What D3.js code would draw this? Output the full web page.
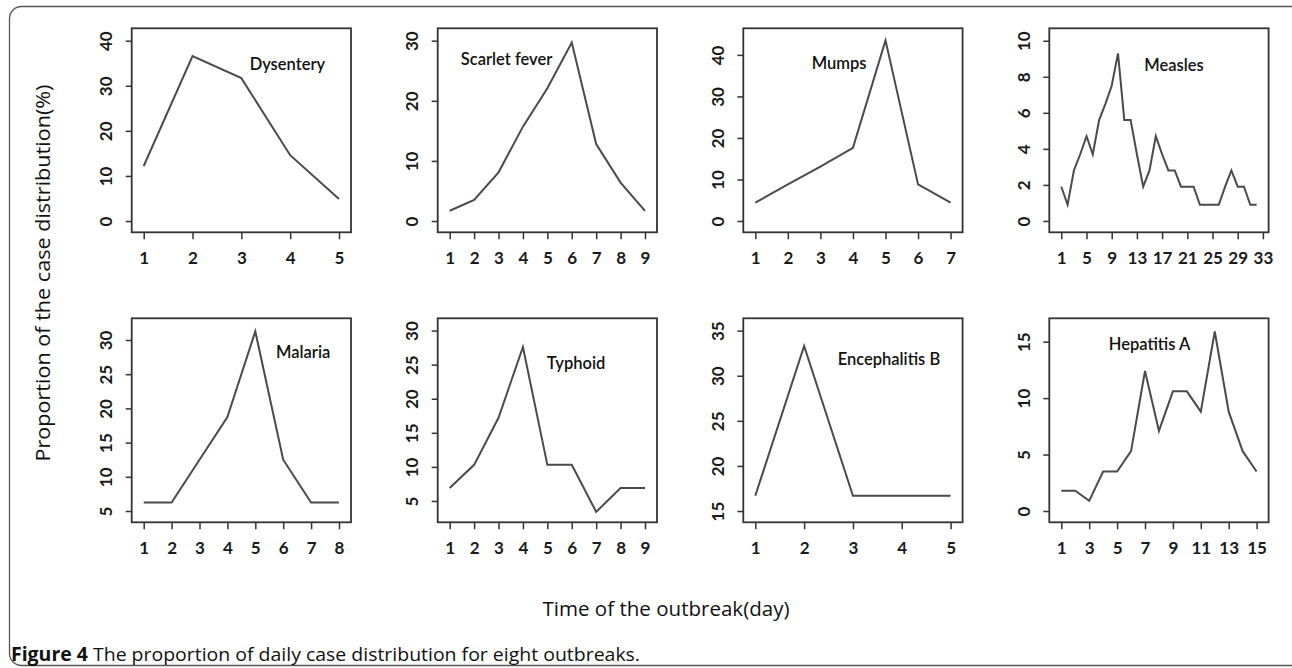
<!DOCTYPE html>
<html>
<head>
<meta charset="utf-8">
<script src="https://cdn.jsdelivr.net/npm/d3@7"></script>
<style>
  html, body { margin: 0; padding: 0; background: #fff; }
  svg { display: block; }
  text { font-family: Lato, "Open Sans", sans-serif; }
</style>
</head>
<body>
<svg id="chart" width="1292" height="668"></svg>
<script>
// ---- data ----
const diseases = ["Dysentery", "Scarlet fever", "Mumps", "Measles", "Malaria", "Typhoid", "Encephalitis B", "Hepatitis A"];
const dysentery = [12.2, 36.6, 31.7, 14.6, 4.9];
const scarletFever = [1.7, 3.5, 8.1, 15.7, 22.1, 29.7, 12.8, 6.4, 1.7];
const mumps = [4.4, 8.8, 13.1, 17.6, 43.5, 8.8, 4.4];
const measles = [1.9, 0.9, 2.8, 3.7, 4.7, 3.7, 5.6, 6.5, 7.5, 9.3, 5.6, 5.6, 3.7, 1.9, 2.8, 4.7, 3.7, 2.8, 2.8, 1.9, 1.9, 1.9, 0.9, 0.9, 0.9, 0.9, 1.9, 2.8, 1.9, 1.9, 0.9, 0.9];
const malaria = [6.25, 6.25, 12.5, 18.75, 31.25, 12.5, 6.25, 6.25];
const typhoid = [6.9, 10.3, 17.2, 27.6, 10.3, 10.3, 3.4, 6.9, 6.9];
const encephalitisB = [16.7, 33.3, 16.7, 16.7, 16.7];
const hepatitisA = [1.8, 1.8, 0.9, 3.5, 3.5, 5.3, 12.4, 7.1, 10.6, 10.6, 8.8, 15.9, 8.8, 5.3, 3.5];
const seriesList = [dysentery, scarletFever, mumps, measles, malaria, typhoid, encephalitisB, hepatitisA];

const xTickLabels = [
  [1, 2, 3, 4, 5],
  [1, 2, 3, 4, 5, 6, 7, 8, 9],
  [1, 2, 3, 4, 5, 6, 7],
  [1, 5, 9, 13, 17, 21, 25, 29, 33],
  [1, 2, 3, 4, 5, 6, 7, 8],
  [1, 2, 3, 4, 5, 6, 7, 8, 9],
  [1, 2, 3, 4, 5],
  [1, 3, 5, 7, 9, 11, 13, 15]
];
const yTickLabels = [
  [0, 10, 20, 30, 40],
  [0, 10, 20, 30],
  [0, 10, 20, 30, 40],
  [0, 2, 4, 6, 8, 10],
  [5, 10, 15, 20, 25, 30],
  [5, 10, 15, 20, 25, 30],
  [15, 20, 25, 30, 35],
  [0, 5, 10, 15]
];
const yLimits = [
  [-2.5, 42.75], [-1.88, 32.06], [-2.72, 46.4], [-0.63, 10.69],
  [3.35, 33.17], [1.87, 31.8], [13.75, 36.37], [-1.0, 17.07]
];
const xTitle = "Time of the outbreak(day)";
const yTitle = "Proportion of the case distribution(%)";
const captionBold = "Figure 4";
const captionText = " The proportion of daily case distribution for eight outbreaks.";

// ---- layout ----
const colLeft = [131.7, 437.7, 743.3, 1049.3];
const colWidth = 219.3;
const rowTop = [28.3, 318.3];
const boxH = 204;
const xInset = 12;
const labelPos = [
  [0.71, 0.176], [0.314, 0.15], [0.437, 0.172], [0.569, 0.18],
  [0.782, 0.167], [0.631, 0.22], [0.664, 0.201], [0.457, 0.127]
];

const svg = d3.select("#chart");

// outer rounded frame
svg.append("rect")
  .attr("x", 9.5).attr("y", 6.5).attr("width", 1296).attr("height", 659)
  .attr("rx", 12).attr("ry", 12)
  .attr("fill", "none").attr("stroke", "#555").attr("stroke-width", 1.3);

seriesList.forEach((vals, i) => {
  const col = i % 4, row = Math.floor(i / 4);
  const left = colLeft[col], top = rowTop[row];
  const g = svg.append("g").attr("transform", `translate(${left},${top})`);
  const x = d3.scaleLinear().domain([1, vals.length]).range([xInset, colWidth - xInset]);
  const y = d3.scaleLinear().domain(yLimits[i]).range([boxH, 0]);

  // data line
  const line = d3.line().x((d, j) => x(j + 1)).y(d => y(d));
  g.append("path").datum(vals)
    .attr("d", line)
    .attr("fill", "none").attr("stroke", "#4a4a4a").attr("stroke-width", 2)
    .attr("stroke-linejoin", "miter");

  // box
  g.append("rect").attr("x", 0).attr("y", 0).attr("width", colWidth).attr("height", boxH)
    .attr("fill", "none").attr("stroke", "#333").attr("stroke-width", 1.8);

  // x axis
  const xa = g.append("g").attr("transform", `translate(0,${boxH})`)
    .call(d3.axisBottom(x).tickValues(xTickLabels[i]).tickSize(7).tickSizeOuter(0).tickFormat(d3.format("d")));
  xa.select(".domain").remove();
  xa.selectAll(".tick line").attr("stroke", "#333").attr("stroke-width", 1.5);
  xa.selectAll(".tick text")
    .attr("y", 25).attr("dy", null).attr("dominant-baseline", "central")
    .attr("fill", "#1a1a1a").style("font-size", "17px").style("font-weight", "700")
    .style("font-family", "Lato, sans-serif");

  // y axis
  const ya = g.append("g")
    .call(d3.axisLeft(y).tickValues(yTickLabels[i]).tickSize(6).tickSizeOuter(0).tickFormat(d3.format("d")));
  ya.select(".domain").remove();
  ya.selectAll(".tick line").attr("stroke", "#333").attr("stroke-width", 1.5);
  ya.selectAll(".tick text")
    .attr("x", 0).attr("y", 0).attr("dy", null)
    .attr("transform", "translate(-26,0) rotate(-90)")
    .attr("text-anchor", "middle").attr("dominant-baseline", "central")
    .attr("fill", "#1a1a1a").style("font-size", "17px").style("font-weight", "700")
    .style("font-family", "Lato, sans-serif");

  // disease label
  g.append("text")
    .attr("x", labelPos[i][0] * colWidth).attr("y", labelPos[i][1] * boxH)
    .attr("text-anchor", "middle").attr("dominant-baseline", "central")
    .attr("fill", "#111").style("font-size", "16.5px").style("font-weight", "600")
    .text(diseases[i]);
});

// axis titles
svg.append("text").attr("x", 666).attr("y", 608)
  .attr("text-anchor", "middle").attr("dominant-baseline", "central")
  .attr("textLength", 247).attr("lengthAdjust", "spacingAndGlyphs")
  .attr("fill", "#111").style("font-size", "19.5px").style("font-family", "'Open Sans', sans-serif")
  .text(xTitle);
svg.append("text").attr("transform", "translate(42,273) rotate(-90)")
  .attr("text-anchor", "middle").attr("dominant-baseline", "central")
  .attr("textLength", 377).attr("lengthAdjust", "spacingAndGlyphs")
  .attr("fill", "#111").style("font-size", "19.5px").style("font-family", "'Open Sans', sans-serif")
  .text(yTitle);

// caption
const cap = svg.append("text").attr("x", 11).attr("y", 661)
  .attr("textLength", 629).attr("lengthAdjust", "spacingAndGlyphs")
  .attr("fill", "#111").style("font-size", "19px").style("font-family", "'Open Sans', sans-serif");
cap.append("tspan").style("font-weight", "700").text(captionBold);
cap.append("tspan").text(captionText);
</script>
</body>
</html>
